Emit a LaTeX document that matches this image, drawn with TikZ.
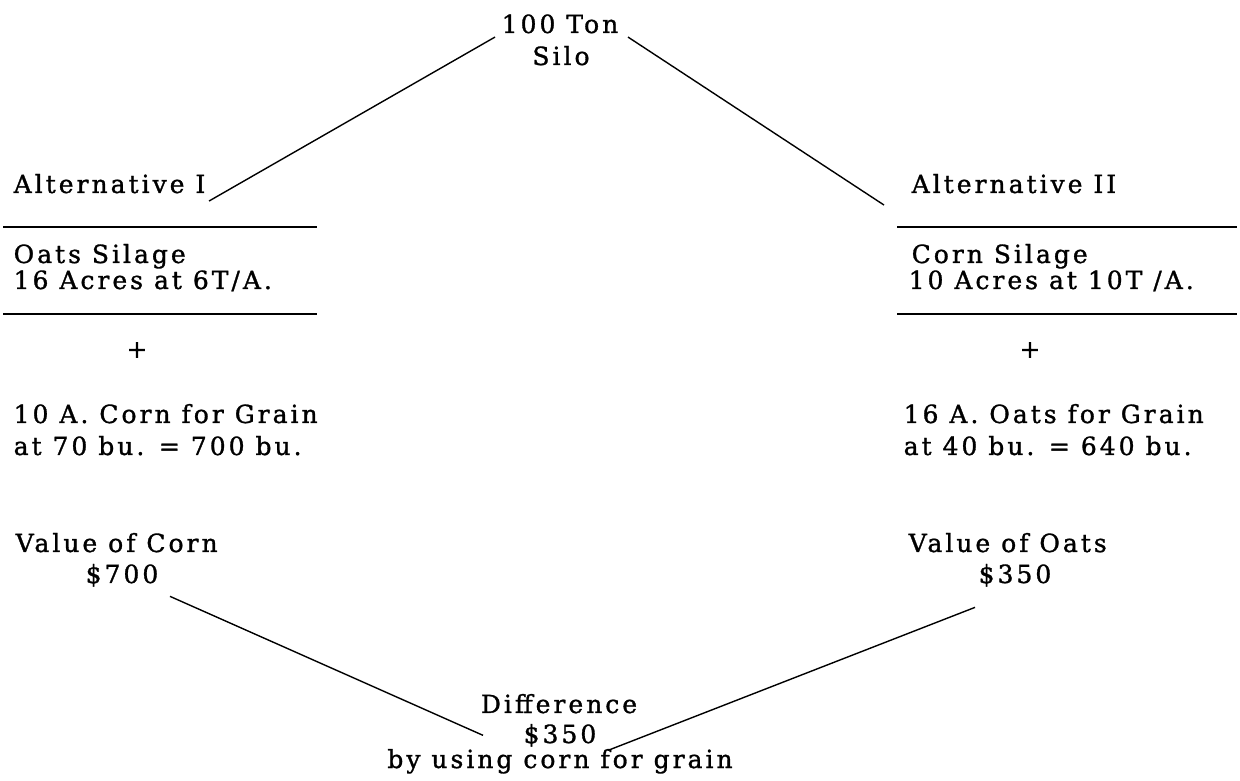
\documentclass[tikz,border=0pt]{standalone}
\usepackage{fontspec}
\newfontfamily\typefont[LetterSpace=12,FakeBold=1.2]{DejaVu Serif}
\usetikzlibrary{positioning}
\tikzset{
  lbl/.style={inner sep=3bp, font=\typefont\fontsize{25bp}{28bp}\selectfont},
  rule/.style={line width=1.8bp},
}
\begin{document}
\begin{tikzpicture}[>=latex,line join=bevel,]
  \pgfsetlinewidth{1.4bp}
  \useasboundingbox (0bp,0bp) rectangle (1240bp,781bp);
%%
\pgfsetcolor{black}
  % Node: ton
  \node[lbl, anchor=base] (ton) at (560bp,748bp) {100 Ton};
  \node[lbl, anchor=base] (silo) at (561bp,716bp) {Silo};
  % Node: altI
  \node[lbl, anchor=base west] (altI) at (10bp,588bp) {Alternative I};
  \draw[rule] (3bp,554bp) -- (317bp,554bp);
  \node[lbl, anchor=base west] (oatsSilage) at (10bp,518bp) {Oats Silage};
  \node[lbl, anchor=base west] (oatsAcres) at (10bp,492bp) {16 Acres at 6T/A.};
  \draw[rule] (3bp,467bp) -- (317bp,467bp);
  \node[lbl] (plusI) at (137bp,431bp) {+};
  \node[lbl, anchor=base west] (cornGrain) at (10bp,358bp) {10 A. Corn for Grain};
  \node[lbl, anchor=base west] (cornBu) at (10bp,326bp) {at 70 bu. = 700 bu.};
  \node[lbl, anchor=base west] (cornValue) at (12bp,229bp) {Value of Corn};
  \node[lbl, anchor=base west] (cornDollar) at (82bp,198bp) {\$700};
  % Node: altII
  \node[lbl, anchor=base west] (altII) at (908bp,588bp) {Alternative II};
  \draw[rule] (897bp,554bp) -- (1237bp,554bp);
  \node[lbl, anchor=base west] (cornSilage) at (908bp,518bp) {Corn Silage};
  \node[lbl, anchor=base west] (cornAcres) at (905bp,492bp) {10 Acres at 10T /A.};
  \draw[rule] (897bp,467bp) -- (1237bp,467bp);
  \node[lbl] (plusII) at (1030bp,431bp) {+};
  \node[lbl, anchor=base west] (oatsGrain) at (900bp,358bp) {16 A. Oats for Grain};
  \node[lbl, anchor=base west] (oatsBu) at (900bp,326bp) {at 40 bu. = 640 bu.};
  \node[lbl, anchor=base west] (oatsValue) at (905bp,229bp) {Value of Oats};
  \node[lbl, anchor=base west] (oatsDollar) at (975bp,198bp) {\$350};
  % Node: diff
  \node[lbl, anchor=base] (diff) at (559bp,68bp) {Difference};
  \node[lbl, anchor=base] (diffDollar) at (560bp,38bp) {\$350};
  \node[lbl, anchor=base] (diffNote) at (560bp,13bp) {by using corn for grain};
  % Edge: ton -> altI
  \draw ([xshift=-3bp]ton.south west) -- ([yshift=-4bp]altI.south east);
  % Edge: ton -> altII
  \draw ([xshift=6bp]ton.south east) -- ([xshift=-24bp,yshift=-8bp]altII.south west);
  % Edge: cornDollar -> diffDollar
  \draw ([xshift=8bp,yshift=-6bp]cornDollar.south east) -- ([xshift=-37bp]diffDollar.west);
  % Edge: oatsDollar -> diffDollar
  \draw ([yshift=-17bp]oatsDollar.south west) -- ([xshift=8bp]diffDollar.south east);
%
\end{tikzpicture}
\end{document}
